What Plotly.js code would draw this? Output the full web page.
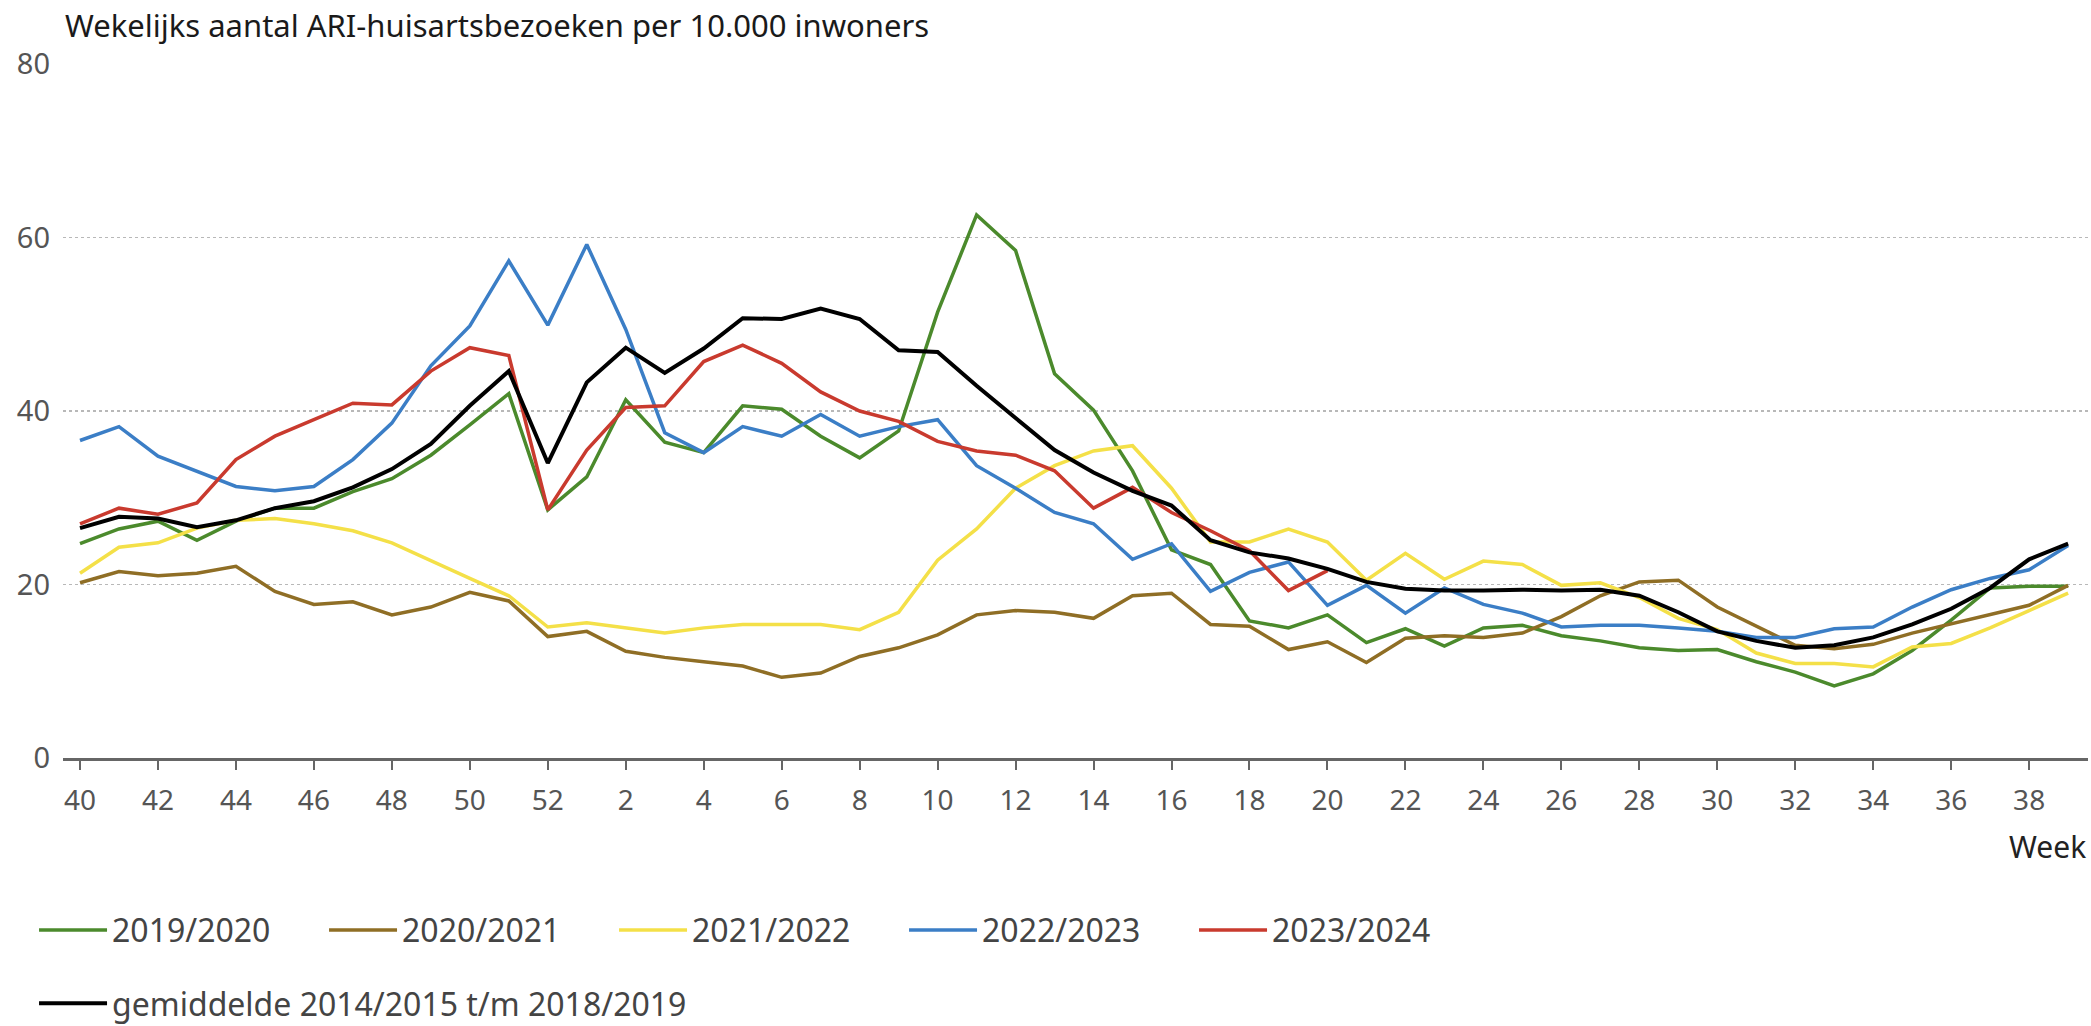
<!DOCTYPE html>
<html>
<head>
<meta charset="utf-8">
<script src="https://cdn.plot.ly/plotly-3.0.1.min.js"></script>
<style>html,body{margin:0;padding:0;background:#fff;}#chart{width:2091px;height:1026px;}</style>
</head>
<body>
<div id="chart"></div>
<script>
var weeks = ["40","41","42","43","44","45","46","47","48","49","50","51","52",
  "1","2","3","4","5","6","7","8","9","10","11","12","13","14","15","16","17","18","19","20",
  "21","22","23","24","25","26","27","28","29","30","31","32","33","34","35","36","37","38","39"];

var tickWeeks = ["40","42","44","46","48","50","52","2","4","6","8","10","12","14","16","18","20",
  "22","24","26","28","30","32","34","36","38"];

var seasonNames = ["2019/2020","2020/2021","2021/2022","2022/2023","2023/2024","gemiddelde 2014/2015 t/m 2018/2019"];

var s2019 = [24.7,26.4,27.3,25.1,27.3,28.8,28.8,30.7,32.2,34.9,38.4,42.0,28.6,
  32.4,41.3,36.4,35.2,40.6,40.2,37.1,34.6,37.7,51.4,62.6,58.5,44.3,40.1,33.1,24.0,22.3,15.8,15.0,16.5,
  13.3,14.9,12.9,15.0,15.3,14.1,13.5,12.7,12.4,12.5,11.1,9.9,8.3,9.7,12.4,15.9,19.6,19.8,19.8];

var s2020 = [20.2,21.5,21.0,21.3,22.1,19.2,17.7,18.0,16.5,17.4,19.1,18.1,14.0,
  14.6,12.3,11.6,11.1,10.6,9.3,9.8,11.7,12.7,14.2,16.5,17.0,16.8,16.1,18.7,19.0,15.4,15.2,12.5,13.4,
  11.0,13.8,14.1,13.9,14.4,16.3,18.7,20.3,20.5,17.4,15.2,13.0,12.6,13.1,14.4,15.5,16.5,17.6,19.9];

var s2021 = [21.3,24.3,24.8,26.5,27.4,27.6,27.0,26.2,24.8,22.7,20.7,18.7,15.1,
  15.6,15.0,14.4,15.0,15.4,15.4,15.4,14.8,16.8,22.8,26.4,31.1,33.7,35.4,36.0,31.1,24.9,24.9,26.4,24.9,
  20.5,23.6,20.6,22.7,22.3,19.9,20.2,18.5,16.1,14.8,12.1,10.9,10.9,10.5,12.8,13.2,15.0,17.0,19.0];

var s2022 = [36.6,38.2,34.8,33.1,31.3,30.8,31.3,34.4,38.6,45.2,49.8,57.3,49.9,
  59.2,49.4,37.5,35.2,38.2,37.1,39.6,37.1,38.2,39.0,33.7,31.1,28.3,27.0,22.9,24.7,19.2,21.4,22.6,17.6,
  19.9,16.7,19.6,17.7,16.7,15.1,15.3,15.3,15.0,14.6,13.9,13.9,14.9,15.1,17.4,19.4,20.7,21.7,24.5];

var s2023 = [27.0,28.8,28.1,29.4,34.4,37.1,39.0,40.9,40.7,44.6,47.3,46.4,28.6,
  35.5,40.4,40.6,45.7,47.6,45.5,42.2,40.0,38.8,36.5,35.4,34.9,33.1,28.8,31.2,28.3,26.2,23.9,19.3,21.6,
  null,null,null,null,null,null,null,null,null,null,null,null,null,null,null,null,null,null,null];

var sAvg = [26.5,27.8,27.6,26.6,27.4,28.8,29.6,31.2,33.3,36.2,40.6,44.6,34.0,
  43.3,47.3,44.4,47.2,50.7,50.6,51.8,50.6,47.0,46.8,42.9,39.2,35.5,32.9,30.8,29.1,25.1,23.7,23.0,21.8,
  20.3,19.5,19.3,19.3,19.4,19.3,19.4,18.7,16.8,14.6,13.5,12.7,13.0,13.9,15.4,17.2,19.6,22.9,24.7];

var colors = ["#4b8a2c","#8f6e25","#f4e048","#3b7ec6","#c93a2e","#000000"];
var series = [s2019, s2020, s2021, s2022, s2023, sAvg];

var FONT = "Noto Sans, Open Sans, sans-serif";

var traces = series.map(function(vals, i){
  return {
    type: "scatter",
    mode: "lines",
    x: weeks,
    y: vals,
    name: seasonNames[i],
    line: {color: colors[i], width: i === 5 ? 4 : 3.5},
    connectgaps: false,
    hoverinfo: "skip",
    legend: i === 5 ? "legend2" : "legend"
  };
});

var legendCommon = {
  orientation: "h",
  font: {family: FONT, size: 32, color: "#444"},
  itemwidth: 68,
  bgcolor: "rgba(0,0,0,0)",
  borderwidth: 0,
  xref: "paper",
  xanchor: "left",
  yanchor: "middle",
  traceorder: "normal",
  itemclick: false,
  itemdoubleclick: false
};

var layout = {
  width: 2091,
  height: 1026,
  paper_bgcolor: "#ffffff",
  plot_bgcolor: "#ffffff",
  margin: {l: 63, r: 3, t: 64, b: 268, pad: 0, autoexpand: false},
  font: {family: FONT, color: "#555"},
  title: {
    text: "Wekelijks aantal ARI-huisartsbezoeken per 10.000 inwoners",
    font: {family: FONT, size: 31, color: "#1a1a1a"},
    xref: "container", x: 65/2091, xanchor: "left",
    yref: "container", y: 1 - 26/1026, yanchor: "middle"
  },
  xaxis: {
    type: "category",
    categoryorder: "array",
    categoryarray: weeks,
    range: [-0.436, 51.51],
    tickmode: "array",
    tickvals: tickWeeks,
    ticktext: tickWeeks,
    ticks: "outside",
    ticklen: 9,
    tickwidth: 2,
    tickcolor: "#666",
    showline: true,
    linecolor: "#666",
    linewidth: 3,
    showgrid: false,
    zeroline: false,
    automargin: false,
    tickfont: {family: FONT, size: 28, color: "#555"},
    ticklabelstandoff: 6,
    fixedrange: true
  },
  yaxis: {
    range: [0, 80],
    tickvals: [0, 20, 40, 60, 80],
    ticks: "",
    showline: false,
    zeroline: false,
    showgrid: true,
    gridcolor: "#b8b8b8",
    gridwidth: 1.5,
    griddash: "dot",
    automargin: false,
    tickfont: {family: FONT, size: 29, color: "#555"},
    ticklabelstandoff: 12,
    fixedrange: true
  },
  legend: Object.assign({}, legendCommon, {x: -0.0143, y: -0.248, entrywidth: 207, entrywidthmode: "pixels"}),
  legend2: Object.assign({}, legendCommon, {x: -0.0143, yref: "container", y: 0.022}),
  showlegend: true,
  annotations: [{
    text: "Week",
    xref: "paper", x: 1, xanchor: "right",
    yref: "paper", y: -0.127, yanchor: "middle",
    showarrow: false,
    font: {family: FONT, size: 30, color: "#222"}
  }]
};

Plotly.newPlot("chart", traces, layout, {displayModeBar: false, staticPlot: true});
</script>
</body>
</html>
